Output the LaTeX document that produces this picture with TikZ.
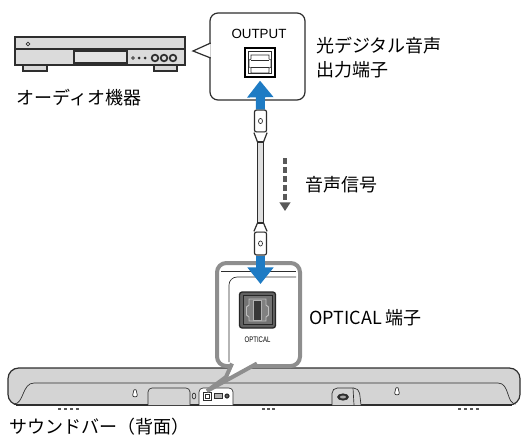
\documentclass[tikz,border=0pt]{standalone}
\usepackage{fontspec}
\setmainfont{Noto Sans CJK JP}
\newfontfamily\arialfont{Liberation Sans}
\usetikzlibrary{arrows.meta}

\definecolor{arrowblue}{HTML}{1E7BC4}
\definecolor{framegray}{HTML}{8E8E8E}
\definecolor{bodygray}{HTML}{D4D4D4}
\definecolor{linedark}{HTML}{2E2E2E}

\tikzset{
  outline/.style={draw=linedark, line width=0.9pt},
  thinline/.style={draw=linedark, line width=0.5pt},
  jplabel/.style={font=\fontsize{13.5}{18}\selectfont, inner sep=0pt, align=left},
  bluearrow/.style={arrowblue, line width=6.75pt, -{Triangle[width=19pt,length=12.5pt]}},
  plug/.style={outline, fill=white, rounded corners=1.5pt, minimum width=9pt, inner sep=0pt},
}

\begin{document}
\begin{tikzpicture}[x=0.75pt, y=-0.75pt]
  \useasboundingbox (0,0) rectangle (523,443);

  % audio player
  \draw[outline, fill=gray!30] (23,64) rectangle (47,71);
  \draw[outline, fill=gray!30] (154,64) rectangle (177,71);
  \draw[outline, line width=1.3pt, fill=gray!28] (15,37) rectangle (185,65);
  \draw[outline] (15,49) -- (185,49);
  \draw[outline, fill=gray!22] (74,51) rectangle (127,63);
  \draw[thinline] (28,44) circle (1.8);
  \draw[thinline] (133,58) circle (1.3);
  \foreach \bx in {139,145}
    \fill[linedark] (\bx,58) circle (1.5);
  \foreach \bx in {155,164,173}
    \draw[outline, line width=1.3pt] (\bx,58) circle (3.3);
  \node[jplabel, anchor=west] (playerlabel) at (16,98) {オーディオ機器};

  % callout with the output jack
  \draw[outline, fill=white, rounded corners=6pt] (210,13) rectangle (305,100);
  \draw[outline, fill=white] (210.7,43) -- (193,51) -- (210.7,58);
  \node[font=\arialfont\fontsize{10}{12}\selectfont] (outname) at (259,34) {OUTPUT};
  \node[draw=black, line width=1.5pt, minimum width=22.5pt, minimum height=21.75pt,
        inner sep=0pt] (outport) at (260,62.5) {};
  \draw[thinline] (248.5,51.5) rectangle (271.5,73.5);
  \draw[thinline] (251,55) -- (269,55) -- (269,59) -- (271,60) -- (271,67) -- (269,68)
    -- (269,73) -- (251,73) -- (251,68) -- (249,67) -- (249,60) -- (251,59) -- cycle;
  \draw[thinline] (251,60) -- (269,60) (251,67) -- (269,67);
  \node[jplabel, anchor=west] (outlabel) at (316,58) {光デジタル音声\\出力端子};

  % soundbar, rear view
  \draw[outline, fill=bodygray, rounded corners=8pt] (8,368) rectangle (520,405);
  \draw[linedark, line width=1.6pt] (16,405) -- (512,405);
  \draw[thinline] (14,404) .. controls (24,404) and (22,383) .. (34,383) -- (498,383)
    .. controls (510,383) and (506,404) .. (516,404);
  \foreach \kx/\ky in {135/390, 397/388} {
    \draw[thinline, fill=white] (\kx,{\ky-0.5}) .. controls ({\kx-2.5},{\ky-0.5}) and ({\kx-0.6},{\ky+3})
      .. ({\kx-2.3},{\ky+5}) .. controls ({\kx-2.8},{\ky+7.5}) and ({\kx+2.8},{\ky+7.5}) .. ({\kx+2.3},{\ky+5})
      .. controls ({\kx+0.6},{\ky+3}) and ({\kx+2.5},{\ky-0.5}) .. (\kx,{\ky-0.5});
  }
  \draw[thinline, fill=bodygray, rounded corners=3pt] (190,405) -- (190,388) -- (148,388) -- (148,405);
  \draw[thinline] (194,396) ellipse (1.8 and 3);
  \draw[thinline, fill=white, rounded corners=3pt] (199,405) -- (199,388) -- (233,388) -- (233,405);
  \draw[thinline] (203,392) rectangle (211,400);
  \draw[thinline] (205,394) rectangle (209,398);
  \draw[thinline, fill=gray!60] (214,393.5) rectangle (222,398.5);
  \draw[thinline, fill=linedark] (227,396) circle (2.2);
  \fill[white] (227,396) circle (0.7);
  \draw[thinline, fill=bodygray, rounded corners=4pt] (332,405) -- (332,388) -- (359,388) -- (361,405);
  \draw[thinline] (353,388) -- (354,405);
  \draw[thinline, fill=linedark] (343,397) ellipse (5.5 and 3.2);
  \fill[gray!70] (343,397) ellipse (3 and 1.5);
  \foreach \fx in {58,64,70,76,262,267,272,458,464,470,476}
    \fill[linedark!80] (\fx,408) rectangle ++(3,2);
  \node[jplabel, anchor=west] (barlabel) at (9,427) {サウンドバー（背面）};

  % zoomed callout of the optical input
  \draw[framegray, line width=3pt, fill=white, rounded corners=7pt] (217,263) rectangle (300,366);
  \draw[thinline] (221,271) -- (296,271);
  \draw[thinline, rounded corners=6pt] (229,362) -- (229,277) -- (296,277);
  \draw[framegray, line width=3pt, fill=white] (232,363.5) -- (226,377) -- (207,391) -- (257,363.5);
  \node[draw=black!85, fill=black!62, line width=1pt, rounded corners=2pt, minimum size=27pt,
        inner sep=0pt] (optport) at (257.5,310) {};
  \draw[black!85, fill=black!55, line width=0.6pt] (243,295.5) rectangle (272,324.5);
  \draw[white!75!black, line width=0.7pt, fill=black!50] (249,299) -- (266,299) -- (266,305)
    -- (268.5,307) -- (268.5,315) -- (266,317) -- (266,321) -- (249,321) -- (249,317)
    -- (246.5,315) -- (246.5,307) -- (249,305) -- cycle;
  \draw[white!70!black, line width=0.6pt, fill=black!78] (253.5,300.5) rectangle (261.5,320.5);
  \node[font=\arialfont\fontsize{6}{7}\selectfont] (optname) at (257.5,340) {\scalebox{0.75}[1]{OPTICAL}};
  \node[jplabel, anchor=west] (optlabel) at (309,318) {OPTICAL 端子};

  % optical cable with plugs
  \node[plug, minimum height=16.5pt] (topplug) at (260.5,121) {};
  \node[plug, minimum height=17.25pt] (botplug) at (260.5,243.5) {};
  \draw[thinline] (topplug.center) ellipse (2 and 2.6);
  \draw[thinline] (botplug.center) ellipse (2 and 2.6);
  \draw[outline, fill=white] (topplug.south west) -- (257.5,142) -- (263.5,142) -- (topplug.south east);
  \draw[outline, fill=white] (botplug.north west) -- (257.5,223) -- (263.5,223) -- (botplug.north east);
  \draw[outline, fill=gray!25] (257.5,142) rectangle (263.5,223);

  % signal flow
  \coordinate (optin) at (260.5,284);
  \draw[bluearrow, shorten >=2pt] (topplug.north) -- (outport.south);
  \draw[bluearrow] (botplug.south) -- (optin);
  \coordinate (sigtop) at (285,158);
  \coordinate (sigbot) at (285,211);
  \draw[black!65, line width=2.6pt, dash pattern=on 4.5pt off 2.2pt,
        -{Triangle[width=8pt,length=6.5pt]}] (sigtop) -- (sigbot);
  \node[jplabel, anchor=west] (siglabel) at (305,185) {音声信号};
\end{tikzpicture}
\end{document}
